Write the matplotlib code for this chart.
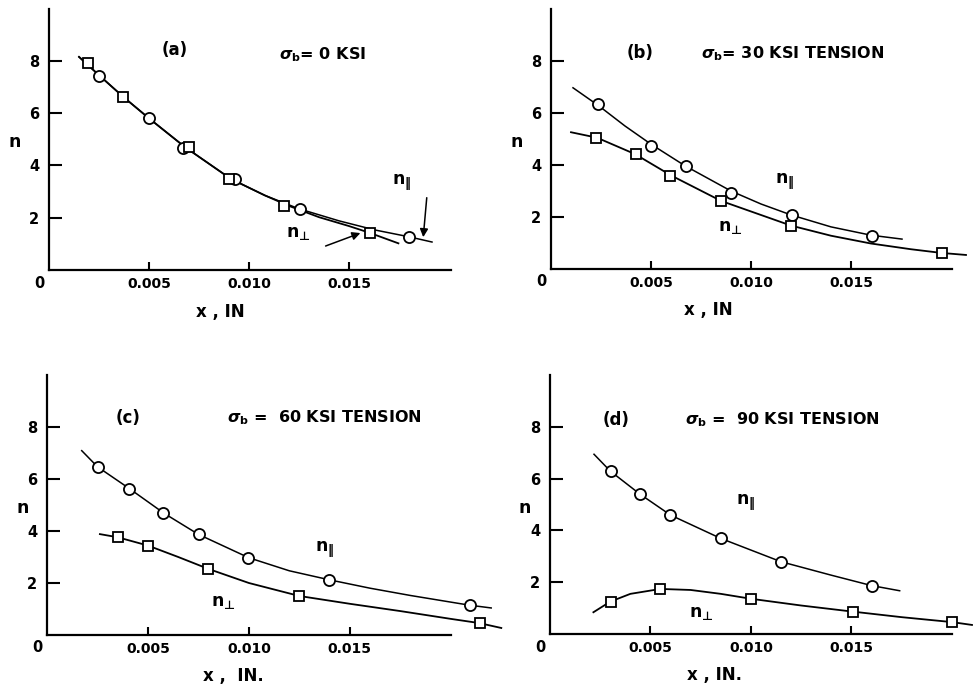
import numpy as np
import matplotlib
matplotlib.use('Agg')
import matplotlib.pyplot as plt

# ---- measured points (x in inches, n) ----
# panel (a) sigma_b = 0
a_par_x = [0.00248, 0.00502, 0.00668, 0.00928, 0.01255, 0.0180]
a_par_n = [7.43, 5.81, 4.65, 3.48, 2.32, 1.26]
a_perp_x = [0.00197, 0.00372, 0.00698, 0.00898, 0.01173, 0.01605]
a_perp_n = [7.93, 6.63, 4.70, 3.48, 2.44, 1.43]
# faired curves
a_par_cx = [0.0015, 0.0025, 0.0037, 0.005, 0.0068, 0.0091, 0.0108, 0.0125,
            0.0145, 0.0163, 0.018, 0.01915]
a_par_cn = [8.15, 7.45, 6.63, 5.8, 4.7, 3.48, 2.85, 2.34, 1.88, 1.53, 1.27, 1.07]
a_perp_cx = [0.0015, 0.0025, 0.0037, 0.005, 0.0068, 0.0091, 0.0108, 0.0120,
             0.0135, 0.0150, 0.0160, 0.01747]
a_perp_cn = [8.15, 7.45, 6.63, 5.8, 4.7, 3.48, 2.85, 2.45, 2.02, 1.68, 1.43, 1.02]

# panel (b) sigma_b = 30 ksi
b_par_x = [0.00235, 0.00502, 0.00673, 0.00902, 0.01205, 0.01607]
b_par_n = [6.33, 4.74, 3.97, 2.94, 2.08, 1.27]
b_perp_x = [0.00227, 0.00423, 0.00597, 0.00848, 0.01202, 0.01955]
b_perp_n = [5.05, 4.41, 3.58, 2.62, 1.65, 0.60]
b_par_cx = [0.0011, 0.0024, 0.0037, 0.005, 0.0067, 0.009, 0.0105, 0.012,
            0.014, 0.016, 0.01755]
b_par_cn = [6.97, 6.27, 5.5, 4.8, 3.97, 3.0, 2.5, 2.08, 1.62, 1.3, 1.15]
b_perp_cx = [0.001, 0.0023, 0.0042, 0.006, 0.0085, 0.012, 0.014, 0.016,
             0.018, 0.0195, 0.02075]
b_perp_cn = [5.26, 5.05, 4.42, 3.6, 2.62, 1.67, 1.28, 0.98, 0.76, 0.62, 0.54]

# panel (c) sigma_b = 60 ksi
c_par_x = [0.00251, 0.00408, 0.00576, 0.00752, 0.00997, 0.01398, 0.02094]
c_par_n = [6.47, 5.62, 4.68, 3.87, 2.97, 2.12, 1.15]
c_perp_x = [0.00353, 0.00502, 0.00799, 0.01249, 0.02144]
c_perp_n = [3.76, 3.44, 2.54, 1.50, 0.46]
c_par_cx = [0.00172, 0.0025, 0.0041, 0.0058, 0.0075, 0.010, 0.012, 0.014,
            0.016, 0.018, 0.0209, 0.0220]
c_par_cn = [7.09, 6.47, 5.62, 4.68, 3.87, 2.97, 2.47, 2.12, 1.8, 1.52, 1.15, 1.04]
c_perp_cx = [0.00262, 0.0035, 0.005, 0.0065, 0.008, 0.010, 0.0125, 0.015,
             0.0175, 0.020, 0.0214, 0.0225]
c_perp_cn = [3.88, 3.76, 3.44, 3.0, 2.54, 2.0, 1.5, 1.2, 0.92, 0.62, 0.46, 0.27]

# panel (d) sigma_b = 90 ksi
d_par_x = [0.00302, 0.00446, 0.00599, 0.00849, 0.01148, 0.01602]
d_par_n = [6.29, 5.41, 4.59, 3.69, 2.79, 1.87]
d_perp_x = [0.00302, 0.00549, 0.01001, 0.01507, 0.0200]
d_perp_n = [1.25, 1.72, 1.35, 0.86, 0.46]
d_par_cx = [0.00219, 0.003, 0.00446, 0.006, 0.0085, 0.0115, 0.014, 0.016,
            0.0174]
d_par_cn = [6.94, 6.29, 5.41, 4.59, 3.69, 2.79, 2.27, 1.87, 1.67]
d_perp_cx = [0.00216, 0.003, 0.004, 0.0055, 0.007, 0.0085, 0.010, 0.0125,
             0.015, 0.0175, 0.020, 0.0210]
d_perp_cn = [0.84, 1.25, 1.55, 1.74, 1.70, 1.55, 1.36, 1.1, 0.87, 0.65, 0.46, 0.35]

x_ticks = [0.005, 0.010, 0.015]
x_ticklabels = ['0.005', '0.010', '0.015']
y_ticks = [2, 4, 6, 8]

plt.rcParams.update({'font.family': 'DejaVu Sans', 'font.weight': 'bold',
                     'axes.labelweight': 'bold',
                     'mathtext.fontset': 'dejavusans'})

fig = plt.figure(figsize=(9.76, 6.87), dpi=100)


def draw_panel(pos, axis_end, data, curves, tag, tag_xy, title, title_xy,
               par_xy, perp_xy, xlabel, xlab_pos, ylab_pos):
    ax = fig.add_axes(pos)
    ax.set_xlim(0, 0.021)
    ax.set_ylim(0, 10)
    for s in ['top', 'right']:
        ax.spines[s].set_visible(False)
    for s in ['left', 'bottom']:
        ax.spines[s].set_linewidth(1.6)
    ax.spines['bottom'].set_bounds(0, axis_end)
    ax.set_xticks(x_ticks)
    ax.set_xticklabels(x_ticklabels)
    ax.set_yticks(y_ticks)
    ax.tick_params(axis='y', direction='in', length=9.5, width=1.5, pad=7,
                   labelsize=10.5)
    ax.tick_params(axis='x', direction='in', length=6, width=1.5, pad=5,
                   labelsize=10)
    # faired curves
    (px, pn), (qx, qn) = curves
    ax.plot(px, pn, color='black', lw=1.1, clip_on=False, zorder=2)
    ax.plot(qx, qn, color='black', lw=1.3, clip_on=False, zorder=2)
    # test points
    (ox, on), (sx, sn) = data
    ax.plot(ox, on, 'o', ms=8, mfc='white', mec='black', mew=1.3,
            clip_on=False, zorder=3)
    ax.plot(sx, sn, 's', ms=7, mfc='white', mec='black', mew=1.3,
            clip_on=False, zorder=3)
    ax.annotate('0', xy=(0, 0), xytext=(-10, -13), textcoords='offset pixels',
                ha='center', va='center', fontsize=10.5)
    ax.text(tag_xy[0], tag_xy[1], tag, ha='center', va='center', fontsize=12)
    ax.text(title_xy[0], title_xy[1], title, ha='left', va='center',
            fontsize=11.5)
    ax.text(par_xy[0], par_xy[1], r'n$_{\Vert}$', ha='center',
            va='center', fontsize=12.5)
    ax.text(perp_xy[0], perp_xy[1], 'n$_{\u22a5}$', ha='center',
            va='center', fontsize=12.5)
    ax.set_xlabel(xlabel, fontsize=12)
    ax.xaxis.set_label_coords(xlab_pos[0], xlab_pos[1])
    ax.set_ylabel('n', fontsize=12.5, rotation=0, va='center')
    ax.yaxis.set_label_coords(ylab_pos[0], ylab_pos[1])
    return ax


ax_a = draw_panel([49 / 976, 1 - 270 / 687, 420 / 976, 261.5 / 687], 0.0201,
                  ((a_par_x, a_par_n), (a_perp_x, a_perp_n)),
                  ((a_par_cx, a_par_cn), (a_perp_cx, a_perp_cn)),
                  '(a)', (0.0063, 8.4), r'$\sigma_{\mathbf{b}}$= 0 KSI',
                  (0.0115, 8.25), (0.01765, 3.33), (0.01245, 1.41),
                  'x , IN', (0.407, -0.125), (-0.081, 0.49))
ax_a.annotate('', xy=(0.0187, 1.15), xytext=(0.0189, 2.87),
              arrowprops=dict(arrowstyle='-|>', color='black', lw=1.1,
                              mutation_scale=12))
ax_a.annotate('', xy=(0.0157, 1.45), xytext=(0.0137, 0.88),
              arrowprops=dict(arrowstyle='-|>', color='black', lw=1.1,
                              mutation_scale=12))

draw_panel([551 / 976, 1 - 269 / 687, 420 / 976, 260 / 687], 0.02005,
           ((b_par_x, b_par_n), (b_perp_x, b_perp_n)),
           ((b_par_cx, b_par_cn), (b_perp_cx, b_perp_cn)),
           '(b)', (0.00445, 8.3), r'$\sigma_{\mathbf{b}}$= 30 KSI TENSION',
           (0.0075, 8.3), (0.0117, 3.35), (0.00895, 1.62),
           'x , IN', (0.374, -0.125), (-0.081, 0.49))

draw_panel([47 / 976, 1 - 635 / 687, 424 / 976, 260 / 687], 0.0200,
           ((c_par_x, c_par_n), (c_perp_x, c_perp_n)),
           ((c_par_cx, c_par_cn), (c_perp_cx, c_perp_cn)),
           '(c)', (0.0040, 8.35), r'$\sigma_{\mathbf{b}}$ =  60 KSI TENSION',
           (0.0089, 8.35), (0.01376, 3.27), (0.00871, 1.27),
           'x ,  IN.', (0.439, -0.125), (-0.057, 0.49))

draw_panel([550 / 976, 1 - 634 / 687, 422 / 976, 259 / 687], 0.0200,
           ((d_par_x, d_par_n), (d_perp_x, d_perp_n)),
           ((d_par_cx, d_par_cn), (d_perp_cx, d_perp_cn)),
           '(d)', (0.00328, 8.26), r'$\sigma_{\mathbf{b}}$ =  90 KSI TENSION',
           (0.0067, 8.26), (0.00975, 5.06), (0.00751, 0.81),
           'x , IN.', (0.39, -0.125), (-0.059, 0.485))

fig.savefig('out.png', dpi=100)
